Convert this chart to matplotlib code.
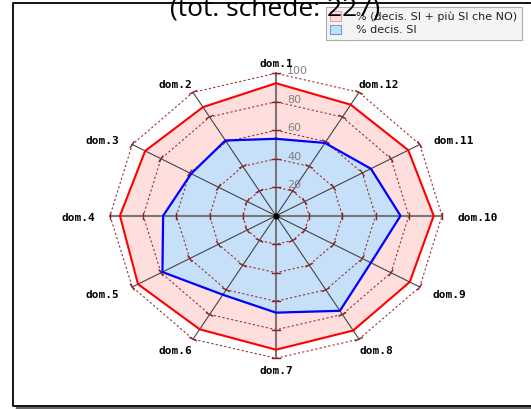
import matplotlib
matplotlib.use("Agg")
import matplotlib.pyplot as plt
from matplotlib.lines import Line2D
from matplotlib.patches import Patch
import numpy as np

# data
labels = ["dom.1", "dom.2", "dom.3", "dom.4", "dom.5", "dom.6",
          "dom.7", "dom.8", "dom.9", "dom.10", "dom.11", "dom.12"]
si_piu = [93, 88, 91, 94, 96, 92, 94, 93, 93, 95, 92, 90]   # % (decis. SI + più SI che NO)
si_decis = [54, 61, 59, 68, 79, 64, 68, 77, 66, 75, 66, 59]  # % decis. SI
levels = [20, 40, 60, 80, 100]
title = "(tot. schede: 227)"
legend_labels = ["% (decis. SI + più SI che NO)", "% decis. SI"]

W, H = 531, 409
fig = plt.figure(figsize=(W / 100, H / 100), dpi=100)
fig.patch.set_facecolor("white")

# outer frame (open on the right) with a grey shadow under the bottom edge
fig.add_artist(Line2D([17 / W, 1], [1.5 / H, 1.5 / H], transform=fig.transFigure,
                      color="#666666", lw=2.5, zorder=0))
fig.add_artist(Line2D([1, 12.5 / W, 12.5 / W, 1], [406 / H, 406 / H, 3.5 / H, 3.5 / H],
                      transform=fig.transFigure, color="black", lw=1.3, zorder=0))

# axes sized so the radar is slightly wider than tall, like the reference
ax = fig.add_axes([27 / W, 8 / H, 498 / W, 370.5 / H])
ax.set_zorder(1)
ax.set_xlim(-1.5, 1.5)
ax.set_ylim(-1.3, 1.3)
ax.axis("off")
ax.patch.set_alpha(0)

n = len(labels)
theta = np.arange(n) * 2 * np.pi / n
sx = -np.sin(theta)
sy = np.cos(theta)


def poly(vals):
    r = np.asarray(vals, float) / 100.0
    x = np.append(r * sx, r[0] * sx[0])
    y = np.append(r * sy, r[0] * sy[0])
    return x, y


# filled series
x, y = poly(si_piu)
ax.fill(x, y, color="#ffdede", zorder=1)
ax.plot(x, y, color="#ff0000", lw=1.5, zorder=5)
x, y = poly(si_decis)
ax.fill(x, y, color="#c7e0fa", zorder=2)
ax.plot(x, y, color="#0000ff", lw=1.6, zorder=6)

# grid polygons
for lv in levels:
    gx, gy = poly([lv] * n)
    ax.plot(gx, gy, color="#993333", lw=0.8, ls=(0, (2, 2)), zorder=3)

# spokes
for i in range(n):
    main = i % 3 == 0
    ax.plot([0, sx[i]], [0, sy[i]], color="#777777" if main else "#444444",
            lw=1.5 if main else 0.8, zorder=4)
    for lv in levels:
        r = lv / 100.0
        L = 0.022
        ax.plot([r * sx[i] - L * sy[i], r * sx[i] + L * sy[i]],
                [r * sy[i] + L * sx[i], r * sy[i] - L * sx[i]],
                color="#8b2222", lw=1, zorder=4)
ax.plot([0], [0], "o", color="black", ms=3.5, zorder=7)

# level labels along dom.1
for lv in levels:
    ax.annotate(str(lv), (0, lv / 100.0), xytext=(11, 2), textcoords="offset pixels",
                ha="left", va="center", fontsize=8, color="#808080", zorder=8)

# axis labels
for i, lab in enumerate(labels):
    half = len(lab) * 3.6
    ox = sx[i] * 14 + np.sign(np.round(sx[i], 3)) * half * min(1.0, abs(sx[i]) * 1.15)
    oy = sy[i] * 11 - 2
    ax.annotate(lab, (sx[i], sy[i]), xytext=(ox, oy), textcoords="offset pixels",
                ha="center", va="center", fontsize=8, fontweight="bold",
                family="DejaVu Sans Mono", color="black", annotation_clip=False, zorder=8)

handles = [Patch(facecolor="#ffdede", edgecolor="#ff9999", lw=0.8),
           Patch(facecolor="#c7e0fa", edgecolor="#6f9fd0", lw=0.8)]
leg = fig.legend(handles, legend_labels, loc="upper right",
                 bbox_to_anchor=(522 / W, 1 - 7 / H), bbox_transform=fig.transFigure,
                 fontsize=8, frameon=True, fancybox=False, borderaxespad=0,
                 handlelength=0.95, handleheight=0.95, handletextpad=1.4,
                 borderpad=0.4, labelspacing=0.25)
for t in leg.get_texts():
    t.set_color("#222222")
leg.get_frame().set_facecolor("#f2f2f2")
leg.get_frame().set_edgecolor("#999999")
leg.get_frame().set_linewidth(0.8)
leg.set_zorder(10)

# title, partly above the figure and over the legend like the reference
fig.text(275.5 / W, 394 / H, title, ha="center", va="baseline", fontsize=19,
         family="Open Sans", color="black", zorder=11)

fig.savefig("out.png", dpi=100)
plt.close(fig)
